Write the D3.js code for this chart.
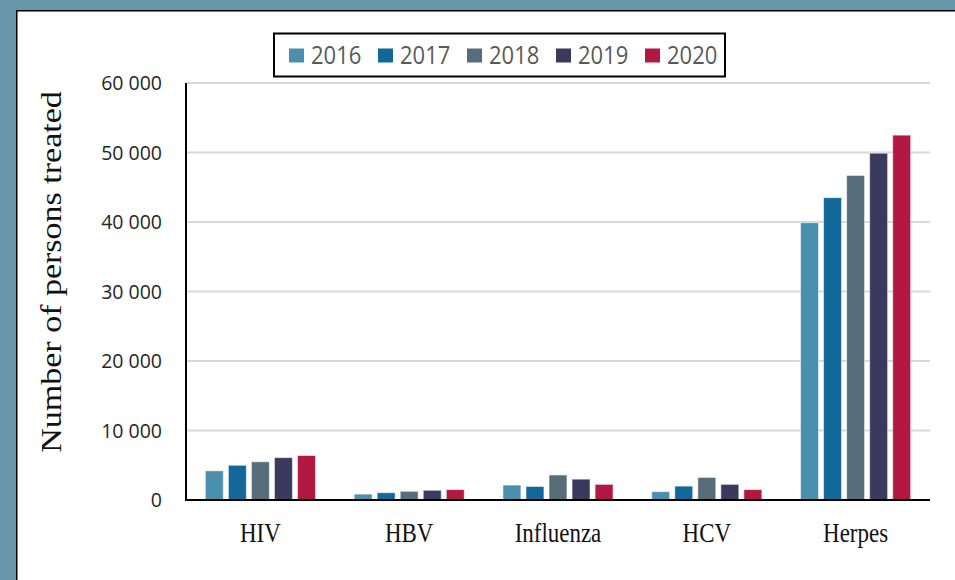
<!DOCTYPE html>
<html>
<head>
<meta charset="utf-8">
<script src="https://cdn.jsdelivr.net/npm/d3@7"></script>
<style>
  body { margin: 0; background: #fff; }
  svg { display: block; }
</style>
</head>
<body>
<svg></svg>
<script>
const width = 955;
const height = 580;

// data
const categories = ["HIV", "HBV", "Influenza", "HCV", "Herpes"];
const years = ["2016", "2017", "2018", "2019", "2020"];
const values2016 = [4200, 850, 2150, 1200, 39900];
const values2017 = [5000, 1050, 1950, 2000, 43500];
const values2018 = [5500, 1250, 3600, 3250, 46700];
const values2019 = [6100, 1400, 3000, 2250, 49900];
const values2020 = [6400, 1500, 2250, 1500, 52500];
const yTicks = [0, 10000, 20000, 30000, 40000, 50000, 60000];
const yTitle = "Number of persons treated";

const seriesValues = [values2016, values2017, values2018, values2019, values2020];
const colors = ["#4a8fae", "#126899", "#576e7a", "#393a5e", "#b11842"];

const svg = d3.select("svg")
    .attr("width", width)
    .attr("height", height);

// teal frame + white panel
svg.append("rect")
    .attr("width", width)
    .attr("height", height)
    .attr("fill", "#6797a9");
svg.append("rect")
    .attr("x", 16)
    .attr("y", 10)
    .attr("width", width - 16)
    .attr("height", height - 10)
    .attr("fill", "#fff");
svg.append("path")
    .attr("d", `M16.75,${height}V10.75H${width}`)
    .attr("fill", "none")
    .attr("stroke", "#000")
    .attr("stroke-width", 1.5);

const plot = { left: 186, right: 930, top: 83, bottom: 500 };

const x0 = d3.scaleBand()
    .domain(categories)
    .range([plot.left, plot.right])
    .paddingInner(0.26)
    .paddingOuter(0.13);

const x1 = d3.scaleBand()
    .domain(years)
    .range([0, x0.bandwidth()])
    .paddingInner(0.22);

const y = d3.scaleLinear()
    .domain([0, 60000])
    .range([plot.bottom, plot.top]);

const fmt = d => d3.format(",")(d).replace(/,/g, " ");

// gridlines
svg.append("g")
    .selectAll("line")
    .data(yTicks.filter(d => d > 0))
    .enter().append("line")
    .attr("x1", plot.left)
    .attr("x2", plot.right)
    .attr("y1", d => y(d))
    .attr("y2", d => y(d))
    .attr("stroke", "#d9d9d9")
    .attr("stroke-width", 2);

// y tick labels
svg.append("g")
    .selectAll("text")
    .data(yTicks)
    .enter().append("text")
    .attr("x", 162)
    .attr("y", d => y(d))
    .attr("dy", "0.36em")
    .attr("text-anchor", "end")
    .attr("font-family", "'Open Sans', sans-serif")
    .attr("font-size", 19.5)
    .attr("fill", "#262626")
    .text(fmt);

// bars
const bars = [];
categories.forEach((c, i) => {
    years.forEach((yr, j) => {
        bars.push({ cat: c, year: yr, value: seriesValues[j][i], color: colors[j] });
    });
});

svg.append("g")
    .selectAll("rect")
    .data(bars)
    .enter().append("rect")
    .attr("x", d => x0(d.cat) + x1(d.year))
    .attr("y", d => y(d.value))
    .attr("width", x1.bandwidth())
    .attr("height", d => y(0) - y(d.value))
    .attr("fill", d => d.color)
    .attr("stroke", "#ffffff")
    .attr("stroke-opacity", 0.55)
    .attr("stroke-width", 1);

// axes lines
svg.append("path")
    .attr("d", `M${plot.left},${plot.top}V${plot.bottom}H${plot.right}`)
    .attr("fill", "none")
    .attr("stroke", "#000")
    .attr("stroke-width", 2);

// category labels
svg.append("g")
    .selectAll("text")
    .data(categories)
    .enter().append("text")
    .attr("transform", d => `translate(${x0(d) + x0.bandwidth() / 2},542) scale(0.85,1)`)
    .attr("text-anchor", "middle")
    .attr("font-family", "'Liberation Serif', serif")
    .attr("font-size", 27)
    .attr("fill", "#111")
    .text(d => d);

// y axis title
svg.append("text")
    .attr("transform", "translate(61,272) rotate(-90) scale(1,0.85)")
    .attr("text-anchor", "middle")
    .attr("font-family", "'Liberation Serif', serif")
    .attr("font-size", 34)
    .attr("fill", "#111")
    .text(yTitle);

// legend
const legend = svg.append("g");
legend.append("rect")
    .attr("x", 274)
    .attr("y", 33.5)
    .attr("width", 451)
    .attr("height", 43)
    .attr("fill", "#fff")
    .attr("stroke", "#000")
    .attr("stroke-width", 2);

const lx = d3.scaleBand()
    .domain(years)
    .range([289, 289 + 89 * years.length]);

const item = legend.selectAll("g.item")
    .data(years)
    .enter().append("g")
    .attr("class", "item")
    .attr("transform", d => `translate(${lx(d)},0)`);

item.append("rect")
    .attr("x", 0)
    .attr("y", 48.5)
    .attr("width", 15)
    .attr("height", 14)
    .attr("fill", (d, i) => colors[i]);

item.append("text")
    .attr("transform", "translate(22,63.5) scale(0.88,1)")
    .attr("font-family", "'Open Sans', sans-serif")
    .attr("font-size", 25)
    .attr("fill", "#595959")
    .text(d => d);
</script>
</body>
</html>
